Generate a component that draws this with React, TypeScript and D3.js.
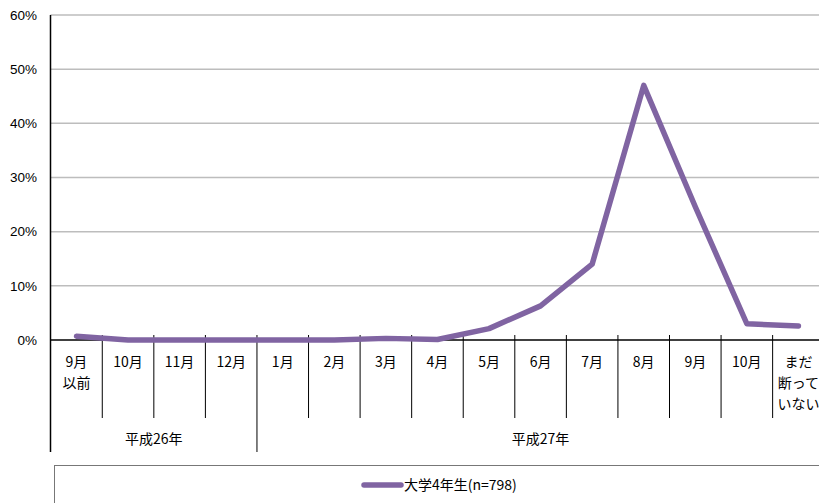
import React from "react";
import * as d3 from "d3";

// Month in which job offers were declined (share of respondents)
const categories: string[] = [
  "9月以前", "10月", "11月", "12月", "1月", "2月", "3月", "4月",
  "5月", "6月", "7月", "8月", "9月", "10月", "まだ断っていない",
];
const categoryLines: string[][] = [
  ["9月", "以前"], ["10月"], ["11月"], ["12月"], ["1月"], ["2月"], ["3月"], ["4月"],
  ["5月"], ["6月"], ["7月"], ["8月"], ["9月"], ["10月"], ["まだ", "断って", "いない"],
];
const values: number[] = [0.7, 0.0, 0.0, 0.0, 0.0, 0.0, 0.3, 0.1, 2.1, 6.3, 14.0, 47.0, 24.6, 3.0, 2.6];
const yearGroups: { label: string; from: number; to: number }[] = [
  { label: "平成26年", from: 0, to: 3 },
  { label: "平成27年", from: 4, to: 14 },
];
const yTicks: number[] = [0, 10, 20, 30, 40, 50, 60];
const seriesName = "大学4年生(n=798)";

const W = 819;
const H = 503;
const FONT = '"Liberation Sans", Arial, "Noto Sans CJK JP", sans-serif';
const JP_FONT = '"Noto Sans CJK JP", "Noto Sans", sans-serif';
const PURPLE = "#8064A2";

export default function App() {
  const x = d3.scaleBand<string>().domain(categories.map((_, i) => String(i))).range([50.7, 824.2]).padding(0);
  const y = d3.scaleLinear().domain([0, 60]).range([340, 15]);
  const cx = (i: number) => (x(String(i)) as number) + x.bandwidth() / 2;

  const line = d3
    .line<number>()
    .x((_, i) => cx(i))
    .y((d) => y(d));

  const axisY = y(0);
  const plotLeft = 50.5;

  return (
    <svg
      width={W}
      height={H}
      style={{ position: "absolute", left: 0, top: 0, background: "#fff" }}
      fontFamily={FONT}
    >
      <rect x={0} y={0} width={W} height={H} fill="#fff" />
      {/* gridlines */}
      {yTicks.filter((t) => t > 0).map((t) => (
        <line key={t} x1={plotLeft} x2={W} y1={y(t)} y2={y(t)} stroke="#BDBDBD" strokeWidth={1.5} />
      ))}
      {/* y tick labels */}
      {yTicks.map((t) => (
        <text key={t} x={37} y={y(t)} dy="0.35em" textAnchor="end" fontSize={13.5} fill="#000">
          {t}%
        </text>
      ))}
      {/* category dividers */}
      {categories.map((_, i) =>
        i === 0 ? null : (
          <line
            key={i}
            x1={x(String(i)) as number}
            x2={x(String(i)) as number}
            y1={axisY - 5}
            y2={yearGroups.some((g) => g.from === i) ? 452 : 418}
            stroke="#000"
            strokeWidth={1}
          />
        )
      )}
      {/* x axis line */}
      <line x1={plotLeft} x2={W} y1={axisY} y2={axisY} stroke="#000" strokeWidth={1.5} />
      {/* y axis line */}
      <line x1={plotLeft} x2={plotLeft} y1={y(60)} y2={452} stroke="#000" strokeWidth={1.5} />
      {/* category labels */}
      {categoryLines.map((lines, i) => (
        <text key={i} textAnchor="middle" fontSize={14} fill="#000" fontFamily={JP_FONT}>
          {lines.map((s, j) => (
            <tspan key={j} x={cx(i)} y={362 + j * 21} dy="0.35em">
              {s}
            </tspan>
          ))}
        </text>
      ))}
      {/* year labels */}
      {yearGroups.map((g) => {
        const x0 = x(String(g.from)) as number;
        const x1 = (x(String(g.to)) as number) + x.bandwidth();
        return (
          <text
            key={g.label}
            x={(x0 + x1) / 2}
            y={439}
            dy="0.35em"
            textAnchor="middle"
            fontSize={14}
            fill="#000"
            fontFamily={JP_FONT}
          >
            {g.label}
          </text>
        );
      })}
      {/* series */}
      <path
        d={line(values) ?? ""}
        fill="none"
        stroke={PURPLE}
        strokeWidth={5.5}
        strokeLinejoin="round"
        strokeLinecap="round"
      />
      {/* legend */}
      <rect x={54.5} y={465.5} width={W} height={60} fill="none" stroke="#777" strokeWidth={1} />
      <line x1={364} x2={401} y1={485} y2={485} stroke={PURPLE} strokeWidth={5.5} strokeLinecap="round" />
      <text x={404} y={485} dy="0.35em" fontSize={14} fill="#000" fontFamily={JP_FONT}>
        {seriesName}
      </text>
    </svg>
  );
}
